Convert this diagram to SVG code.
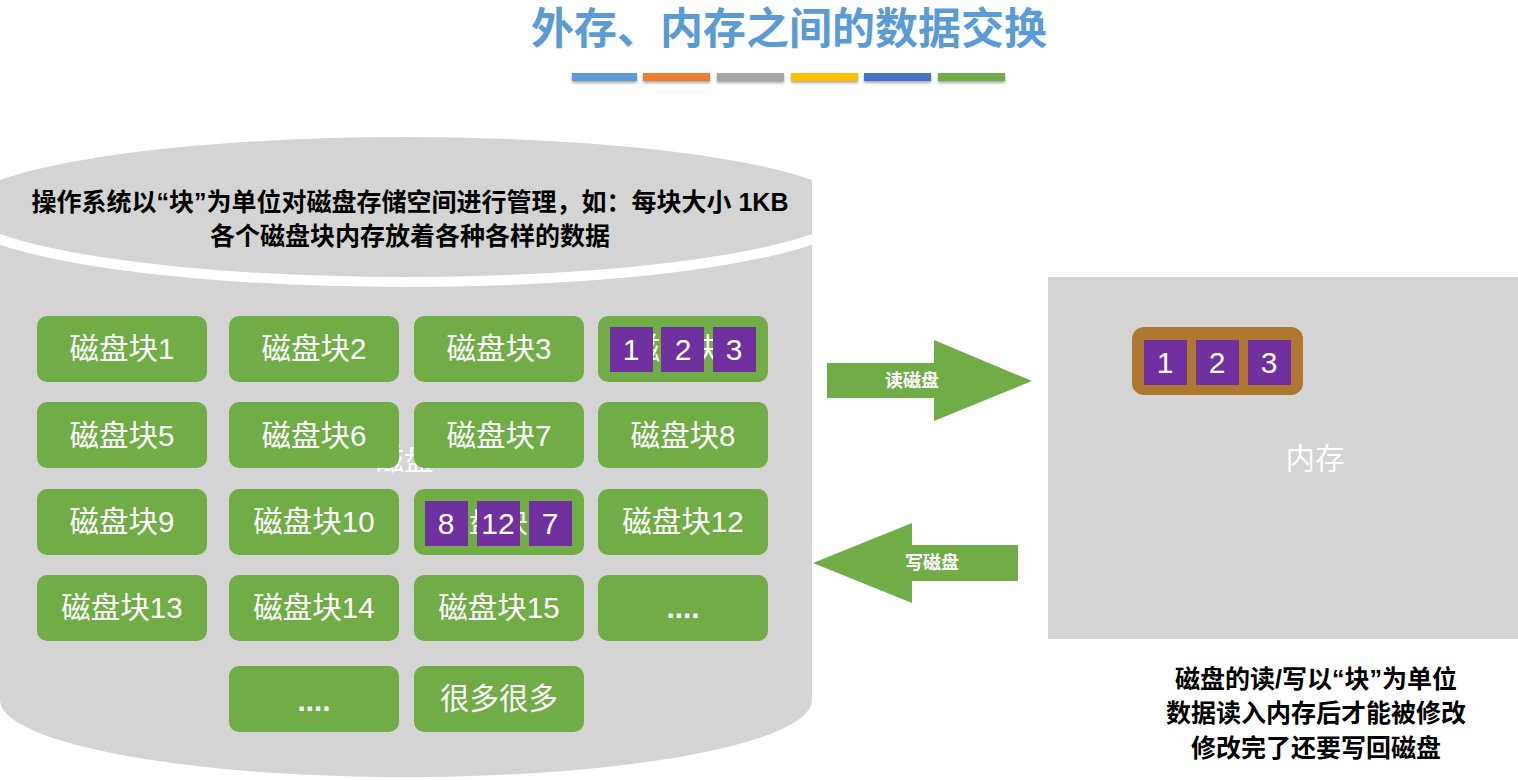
<svg xmlns="http://www.w3.org/2000/svg" width="1518" height="780" viewBox="0 0 1518 780">
<style>
.blk{fill:#70AD47}
.lbl{fill:#fff;font-family:"Liberation Sans","Noto Sans CJK SC",sans-serif;font-size:29.5px;text-anchor:middle}
.sq{fill:#7030A0}
.num{fill:#fff;font-family:"Liberation Sans","Noto Sans CJK SC",sans-serif;font-size:30px;text-anchor:middle}
.blk-txt{fill:#000;font-family:"Liberation Sans","Noto Sans CJK SC",sans-serif;font-weight:bold;font-size:25px;text-anchor:middle}
.arr{fill:#70AD47}
.arr-txt{fill:#fff;font-family:"Noto Sans CJK SC",sans-serif;font-weight:bold;font-size:18px;text-anchor:middle}
</style>
<defs>
<clipPath id="cylclip"><rect x="0" y="0" width="812" height="780"/></clipPath>
<filter id="sh" x="-10%" y="-50%" width="120%" height="250%"><feDropShadow dx="0" dy="2" stdDeviation="1.5" flood-color="#000" flood-opacity="0.35"/></filter>
</defs>
<rect width="1518" height="780" fill="#fff"/>
<g id="title">
<text x="789" y="44" fill="#5B9BD5" font-family="Noto Sans CJK SC,sans-serif" font-weight="bold" font-size="43" text-anchor="middle">外存、内存之间的数据交换</text>
<g filter="url(#sh)">
<rect x="572" y="73" width="65" height="8" fill="#5B9BD5"/>
<rect x="643" y="73" width="67" height="8" fill="#ED7D31"/>
<rect x="717" y="73" width="67" height="8" fill="#A5A5A5"/>
<rect x="791" y="73" width="67" height="8" fill="#FFC000"/>
<rect x="864" y="73" width="67" height="8" fill="#4472C4"/>
<rect x="938" y="73" width="67" height="8" fill="#70AD47"/>
</g>
</g>
<g id="disk">
<path d="M0,238 L0,700 A406,77 0 0 0 812,700 L812,238 Z" fill="#D4D4D4"/>
<ellipse cx="406" cy="207" rx="450" ry="75" fill="#D4D4D4" stroke="#fff" stroke-width="10" clip-path="url(#cylclip)"/>
<text class="blk-txt" x="410" y="211">操作系统以“块”为单位对磁盘存储空间进行管理，如：每块大小 1KB</text>
<text class="blk-txt" x="410" y="245">各个磁盘块内存放着各种各样的数据</text>
<text class="lbl" x="404" y="470">磁盘</text>
</g>
<g id="block1"><rect class="blk" x="37" y="316" width="170" height="66" rx="10"/><text class="lbl" x="122" y="359">磁盘块1</text></g>
<g id="block2"><rect class="blk" x="229" y="316" width="170" height="66" rx="10"/><text class="lbl" x="314" y="359">磁盘块2</text></g>
<g id="block3"><rect class="blk" x="414" y="316" width="170" height="66" rx="10"/><text class="lbl" x="499" y="359">磁盘块3</text></g>
<g id="block4"><rect class="blk" x="598" y="316" width="170" height="66" rx="10"/><text class="lbl" x="683" y="359">磁盘块4</text>
<rect class="sq" x="610" y="327" width="43" height="45"/><text class="num" x="631" y="360">1</text>
<rect class="sq" x="661" y="327" width="43" height="45"/><text class="num" x="683" y="360">2</text>
<rect class="sq" x="713" y="327" width="43" height="45"/><text class="num" x="734" y="360">3</text></g>
<g id="block5"><rect class="blk" x="37" y="402" width="170" height="66" rx="10"/><text class="lbl" x="122" y="446">磁盘块5</text></g>
<g id="block6"><rect class="blk" x="229" y="402" width="170" height="66" rx="10"/><text class="lbl" x="314" y="446">磁盘块6</text></g>
<g id="block7"><rect class="blk" x="414" y="402" width="170" height="66" rx="10"/><text class="lbl" x="499" y="446">磁盘块7</text></g>
<g id="block8"><rect class="blk" x="598" y="402" width="170" height="66" rx="10"/><text class="lbl" x="683" y="446">磁盘块8</text></g>
<g id="block9"><rect class="blk" x="37" y="489" width="170" height="66" rx="10"/><text class="lbl" x="122" y="532">磁盘块9</text></g>
<g id="block10"><rect class="blk" x="229" y="489" width="170" height="66" rx="10"/><text class="lbl" x="314" y="532">磁盘块10</text></g>
<g id="block11"><rect class="blk" x="414" y="489" width="170" height="66" rx="10"/><text class="lbl" x="499" y="532">磁盘块11</text>
<rect class="sq" x="425" y="501" width="43" height="45"/><text class="num" x="446" y="534">8</text>
<rect class="sq" x="477" y="501" width="43" height="45"/><text class="num" x="498" y="534">12</text>
<rect class="sq" x="529" y="501" width="43" height="45"/><text class="num" x="550" y="534">7</text></g>
<g id="block12"><rect class="blk" x="598" y="489" width="170" height="66" rx="10"/><text class="lbl" x="683" y="532">磁盘块12</text></g>
<g id="block13"><rect class="blk" x="37" y="575" width="170" height="66" rx="10"/><text class="lbl" x="122" y="618">磁盘块13</text></g>
<g id="block14"><rect class="blk" x="229" y="575" width="170" height="66" rx="10"/><text class="lbl" x="314" y="618">磁盘块14</text></g>
<g id="block15"><rect class="blk" x="414" y="575" width="170" height="66" rx="10"/><text class="lbl" x="499" y="618">磁盘块15</text></g>
<g id="block16"><rect class="blk" x="598" y="575" width="170" height="66" rx="10"/><text class="lbl" x="683" y="618" font-weight="bold">....</text></g>
<g id="block17"><rect class="blk" x="229" y="666" width="170" height="66" rx="10"/><text class="lbl" x="314" y="711" font-weight="bold">....</text></g>
<g id="block18"><rect class="blk" x="414" y="666" width="170" height="66" rx="10"/><text class="lbl" x="499" y="709">很多很多</text></g>
<g id="memory">
<rect x="1048" y="277" width="480" height="362" fill="#D4D4D4"/>
<text class="lbl" x="1315" y="469">内存</text>
<rect x="1132" y="327" width="171" height="68" rx="12" fill="#AE7830"/>
<rect class="sq" x="1144" y="340" width="43" height="45"/><text class="num" x="1165" y="373">1</text>
<rect class="sq" x="1196" y="340" width="43" height="45"/><text class="num" x="1217" y="373">2</text>
<rect class="sq" x="1248" y="340" width="43" height="45"/><text class="num" x="1269" y="373">3</text>
</g>
<g id="connectors">
<g id="read-arrow"><polygon class="arr" points="827,363 934,363 934,340 1032,381 934,421 934,398 827,398"/><text class="arr-txt" x="912" y="387">读磁盘</text></g>
<g id="write-arrow"><polygon class="arr" points="1018,545 912,545 912,523 813,563 912,603 912,581 1018,581"/><text class="arr-txt" x="932" y="569">写磁盘</text></g>
</g>
<g id="note">
<text class="blk-txt" x="1316" y="688">磁盘的读/写以“块”为单位</text>
<text class="blk-txt" x="1316" y="722">数据读入内存后才能被修改</text>
<text class="blk-txt" x="1316" y="757">修改完了还要写回磁盘</text>
</g>
</svg>
